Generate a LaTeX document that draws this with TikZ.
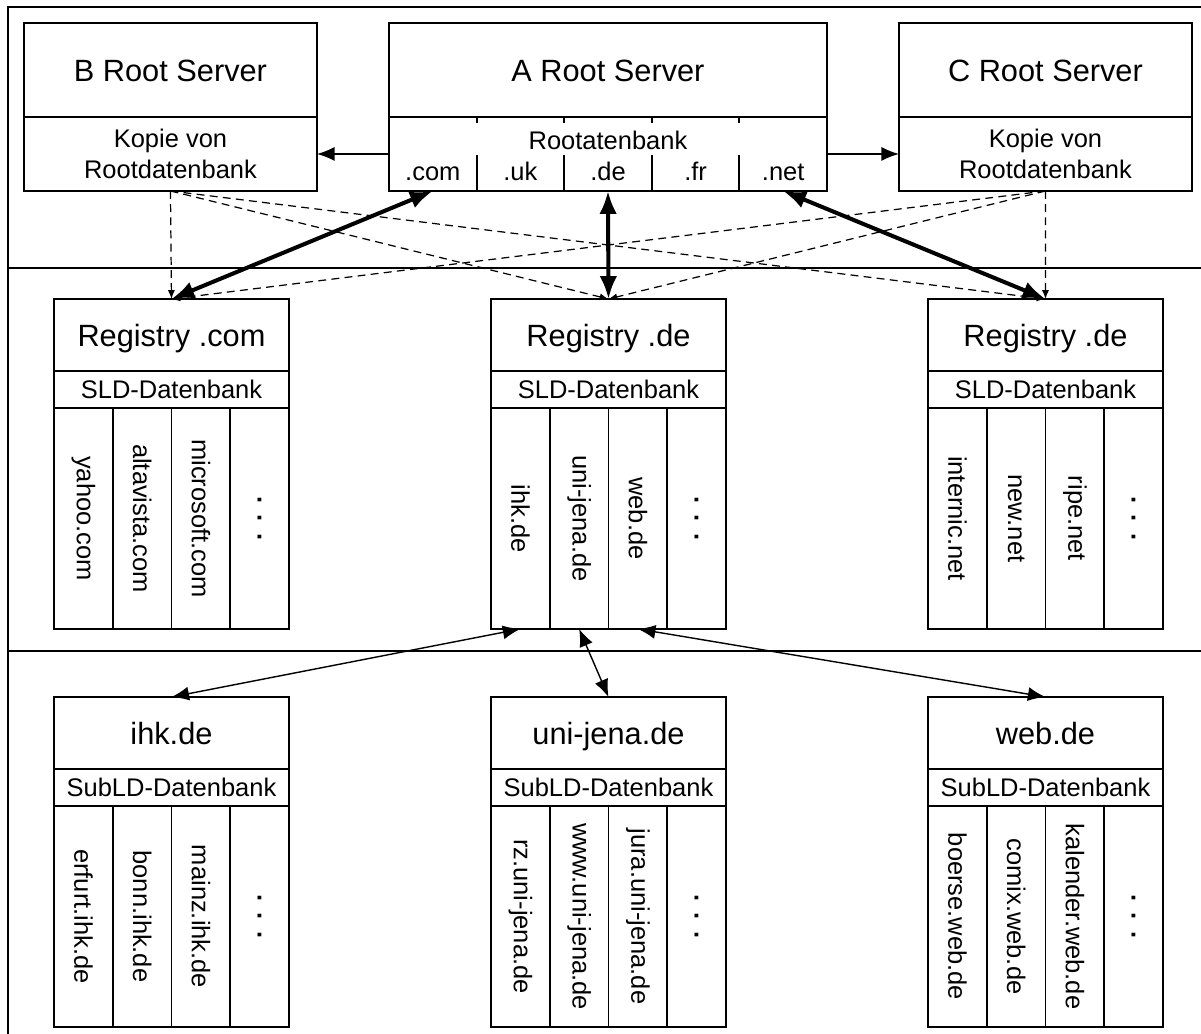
\documentclass[tikz,border=0pt]{standalone}
\usepackage{fontspec}
\setmainfont{Liberation Sans}
\usetikzlibrary{arrows.meta,calc}

\newcommand{\bigText}{\fontsize{17.5}{21}\selectfont}
\newcommand{\smallText}{\fontsize{14.5}{17.5}\selectfont}
\newcommand{\colDots}{\textbf{.}\hspace{0.45em}\textbf{.}\hspace{0.45em}\textbf{.}}

\tikzset{
  box/.style={draw, line width=1.1pt, outer sep=0pt, inner sep=0pt},
  rootHead/.style={box, minimum height=1.88cm, font=\bigText, text height=12.6pt, text depth=0pt},
  rootDB/.style={box, minimum height=1.48cm, align=center, font=\smallText},
  boxHead/.style={box, minimum width=4.7cm, minimum height=1.44cm, font=\bigText, text height=12.6pt, text depth=0pt},
  boxSub/.style={box, minimum width=4.7cm, minimum height=0.74cm, font=\smallText},
  boxCol/.style={box, rotate=-90, minimum width=4.42cm, minimum height=1.175cm, font=\smallText},
  tldText/.style={inner sep=0pt, font=\smallText, text height=10.4pt, text depth=0pt},
  thinArrow/.style={-{Latex[length=10pt,width=8pt]}, line width=0.8pt},
  twoWay/.style={{Latex[length=10pt,width=8pt]}-{Latex[length=10pt,width=8pt]}, line width=0.8pt},
  thickArrow/.style={{Latex[length=13pt,width=10pt]}-{Latex[length=13pt,width=10pt]}, line width=2.3pt},
  dashArrow/.style={-{Latex[length=5pt,width=4pt]}, dash pattern=on 4.5pt off 3pt, line width=0.7pt}
}

% name, x, y, title, database, entries
\newcommand{\dbbox}[6]{%
  \node[boxHead, anchor=north west] (#1) at (#2,#3) {#4};
  \node[boxSub, anchor=north] (#1Sub) at (#1.south) {#5};
  \foreach \entry [count=\i] in {#6}
    \node[boxCol] (#1Col\i) at ($(#1Sub.south west)+(58.75*\i-29.375,110.5)$) {\entry};
}

\begin{document}
\begin{tikzpicture}[x=0.02cm, y=-0.02cm]
\useasboundingbox (0,0) rectangle (1201,1034);
\clip (0,0) rectangle (1201,1034);
% frame and levels
\draw[line width=1.1pt] (8,7) rectangle (1230,1060);
\draw[line width=1.1pt] (8,268) -- (1230,268) (8,651) -- (1230,651);

% root servers
\node[rootHead, minimum width=5.86cm, anchor=north west] (bRoot) at (24,23) {B Root Server};
\node[rootDB, minimum width=5.86cm, anchor=north] (bDB) at (bRoot.south) {Kopie von\\Rootdatenbank};
\node[rootHead, minimum width=8.76cm, anchor=north west] (aRoot) at (389,23) {A Root Server};
\node[box, minimum width=8.76cm, minimum height=1.48cm, anchor=north] (aDB) at (aRoot.south) {};
\node[tldText] (aDBtitle) at ($(aDB.north)+(0,23)$) {Rootatenbank};
\foreach \t [count=\i] in {.com,.uk,.de,.fr,.net}
  \node[tldText] (tld\i) at ($(aDB.south west)+(87.6*\i-43.8,-20)$) {\t};
\foreach \i in {1,...,4}
  \draw[line width=1.1pt] ($(aDB.north west)+(87.6*\i,0)$) -- ++(0,6)
    ($(aDB.south west)+(87.6*\i,-36)$) -- ++(0,36);
\node[rootHead, minimum width=5.86cm, anchor=north west] (cRoot) at (899,23) {C Root Server};
\node[rootDB, minimum width=5.86cm, anchor=north] (cDB) at (cRoot.south) {Kopie von\\Rootdatenbank};

% registries
\dbbox{regCom}{54}{299}{Registry .com}{SLD-Datenbank}{yahoo.com,altavista.com,microsoft.com,\colDots}
\dbbox{regDe}{491}{299}{Registry .de}{SLD-Datenbank}{ihk.de,uni-jena.de,web.de,\colDots}
\dbbox{regNet}{928}{299}{Registry .de}{SLD-Datenbank}{internic.net,new.net,ripe.net,\colDots}

% sub domains
\dbbox{ihk}{54}{697}{ihk.de}{SubLD-Datenbank}{erfurt.ihk.de,bonn.ihk.de,mainz.ihk.de,\colDots}
\dbbox{uniJena}{491}{697}{uni-jena.de}{SubLD-Datenbank}{rz.uni-jena.de,www.uni-jena.de,jura.uni-jena.de,\colDots}
\dbbox{web}{928}{697}{web.de}{SubLD-Datenbank}{boerse.web.de,comix.web.de,kalender.web.de,\colDots}

% connections
\draw[thinArrow] (aDB.west) -- (bDB.east);
\draw[thinArrow] (aDB.east) -- (cDB.west);
\foreach \reg in {regCom,regDe,regNet} {
  \draw[dashArrow] (bDB.south) -- (\reg.north);
  \draw[dashArrow] (cDB.south) -- (\reg.north);
}
\draw[thickArrow] (tld1 |- aDB.south) -- (regCom.north);
\draw[thickArrow] (tld3 |- aDB.south) -- (regDe.north);
\draw[thickArrow] (tld5 |- aDB.south) -- (regNet.north);
\draw[twoWay] (regDeCol1.east) -- (ihk.north);
\draw[twoWay] (regDeCol2.east) -- (uniJena.north);
\draw[twoWay] (regDeCol3.east) -- (web.north);
\end{tikzpicture}
\end{document}
